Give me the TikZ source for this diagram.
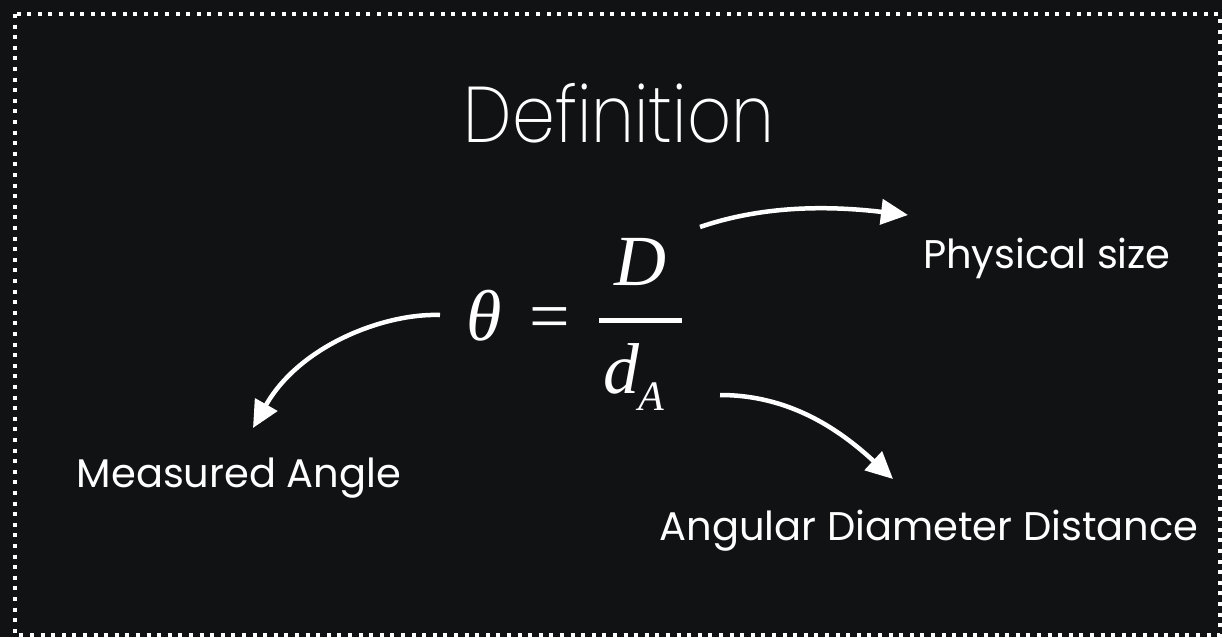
\documentclass[tikz,border=0pt]{standalone}
\usepackage{fontspec}
\setmainfont{Poppins}
\IfFontExistsTF{Poppins ExtraLight}{\newfontfamily\titlefont{Poppins ExtraLight}[FakeStretch=0.87]}{\newfontfamily\titlefont{Poppins Light}[FakeStretch=0.87]}
\newfontfamily\formfont{Liberation Serif}
\usetikzlibrary{arrows.meta}
\definecolor{bgc}{RGB}{17,18,20}
\tikzset{
  lbl/.style={inner sep=0pt, anchor=base, text=white, font=\fontsize{40}{44}\selectfont},
  frm/.style={inner sep=0pt, anchor=base west, text=white, font=\formfont\itshape\fontsize{72}{80}\selectfont},
  conn/.style={draw=white, line width=4.5pt, -{Triangle[length=27pt,width=25pt]}},
}
\begin{document}
\begin{tikzpicture}[x=1pt,y=-1pt]
\useasboundingbox (0,0) rectangle (1222,637);
\fill[bgc] (0,0) rectangle (1222,637);
\draw[white, line width=4pt, dash pattern=on 4pt off 6.6pt] (15,14) rectangle (1220,635);
% title
\node[inner sep=0pt, anchor=base, text=white, font=\titlefont\fontsize{79}{85}\selectfont] (title) at (619,142) {Definition};
% formula
\node[frm] (theta) at (466,340) {θ};
\node[frm, font=\formfont\fontsize{72}{80}\selectfont] (eq) at (529,340) {=};
\node[frm, anchor=base] (num) at (640,285) {D};
\draw[white, line width=5pt] (599,320) -- (682,320) coordinate (barend);
\node[frm] (den) at (603,393) {d};
\node[frm, font=\formfont\itshape\fontsize{42}{46}\selectfont] (sub) at (638,410) {A};
% labels
\node[lbl] (phys) at (1047,268) {Physical size};
\node[lbl] (meas) at (239,487) {Measured Angle};
\node[lbl] (angd) at (929,540) {Angular Diameter Distance};
% arrow anchors
\coordinate (s1) at (700,227);
\coordinate (e1) at (908,215);
\coordinate (s2) at (440,315);
\coordinate (e2) at (253,428);
\coordinate (s3) at (720,395);
\coordinate (e3) at (893,479);
\draw[conn] (s1) .. controls (770,203) and (840,207) .. (e1);
\draw[conn] (s2) .. controls (385,313) and (300,345) .. (e2);
\draw[conn] (s3) .. controls (790,395) and (840,430) .. (e3);
\end{tikzpicture}
\end{document}
